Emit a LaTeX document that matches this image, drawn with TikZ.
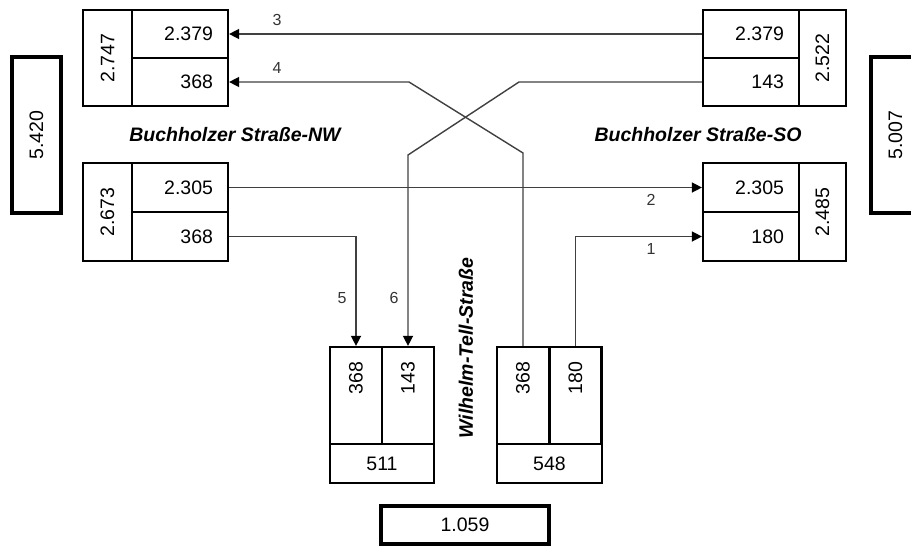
\documentclass[tikz,border=0pt]{standalone}
\usepackage{fontspec}
\setmainfont{Liberation Sans}
\usetikzlibrary{arrows.meta}
\tikzset{
 cell/.style={draw, line width=2.2pt, inner sep=0pt, font=\fontsize{19.5}{22}\selectfont},
 rcell/.style={cell, align=right, text width=66pt, inner xsep=15pt, minimum width=96pt, minimum height=48pt},
 vcell/.style={cell, rotate=90},
 bcell/.style={cell, rotate=90, align=right, text width=67pt, inner xsep=15pt, minimum width=97pt, minimum height=52pt},
 big/.style={draw, line width=4.2pt, inner sep=0pt, font=\fontsize{19.5}{22}\selectfont},
 flow/.style={draw=black!75, line width=1.4pt},
 tip/.style={-{Triangle[length=10pt,width=10pt,color=black]}},
 num/.style={font=\fontsize{16}{18}\selectfont, text=black!80},
 street/.style={font=\fontsize{19.5}{22}\selectfont\bfseries\itshape}
}
\begin{document}
\begin{tikzpicture}[x=1pt,y=1pt]
\useasboundingbox (0,0) rectangle (911,-546);
\clip (0,0) rectangle (911,-546);
% totals
\node[big, rotate=90, minimum width=156pt, minimum height=49pt] (tnw) at (36.5,-135) {5.420};
\node[big, rotate=90, minimum width=156pt, minimum height=49pt] (tso) at (895.5,-135) {5.007};
\node[big, minimum width=168pt, minimum height=38pt] (tw) at (465,-525) {1.059};
% NW top
\node[vcell, minimum width=96pt, minimum height=49pt] (nw1) at (107.5,-58) {2.747};
\node[rcell] (nw1a) at (180,-34) {2.379};
\node[rcell] (nw1b) at (180,-82) {368};
% NW bottom
\node[vcell, minimum width=98pt, minimum height=49pt] (nw2) at (107.5,-212) {2.673};
\node[rcell, minimum height=49pt] (nw2a) at (180,-187.5) {2.305};
\node[rcell, minimum height=49pt] (nw2b) at (180,-236.5) {368};
% SO top
\node[rcell] (se1a) at (751,-34) {2.379};
\node[rcell] (se1b) at (751,-82) {143};
\node[vcell, minimum width=96pt, minimum height=47pt] (se1) at (822.5,-58) {2.522};
% SO bottom
\node[rcell, minimum height=49pt] (se2a) at (751,-187.5) {2.305};
\node[rcell, minimum height=49pt] (se2b) at (751,-236.5) {180};
\node[vcell, minimum width=98pt, minimum height=47pt] (se2) at (822.5,-212) {2.485};
% Wilhelm-Tell left
\node[bcell] (wl1) at (356,-395.5) {368};
\node[bcell] (wl2) at (408,-395.5) {143};
\node[cell, minimum width=104pt, minimum height=39pt] (wl) at (382,-463.5) {511};
% Wilhelm-Tell right
\node[bcell] (wr1) at (523,-395.5) {368};
\node[bcell] (wr2) at (575.5,-395.5) {180};
\node[cell, minimum width=105pt, minimum height=39pt] (wr) at (549.5,-463.5) {548};
% street names
\node[street] (snw) at (235,-135) {Buchholzer Straße-NW};
\node[street] (sso) at (698,-135) {Buchholzer Straße-SO};
\node[street, rotate=90] (swt) at (466,-348) {Wilhelm-Tell-Straße};
% bend points
\coordinate (c4a) at (523,-153);
\coordinate (c4b) at (409,-82);
\coordinate (c6a) at (519,-82);
\coordinate (c6b) at (408,-155);
% flows
\draw[flow, tip] (se1a.west) -- (nw1a.east);
\draw[flow, tip] (wr1.east) -- (c4a) -- (c4b) -- (nw1b.east);
\draw[flow, tip] (se1b.west) -- (c6a) -- (c6b) -- (wl2.east);
\draw[flow, tip] (nw2a.east) -- (se2a.west);
\draw[flow, tip] (nw2b.east) -| (wl1.east);
\draw[flow, tip] (wr2.east) |- (se2b.west);
% flow numbers
\node[num] (n3) at (277,-20) {3};
\node[num] (n4) at (277,-68) {4};
\node[num] (n2) at (651,-200) {2};
\node[num] (n1) at (651,-249) {1};
\node[num] (n5) at (342,-298) {5};
\node[num] (n6) at (394,-298) {6};
\end{tikzpicture}
\end{document}
